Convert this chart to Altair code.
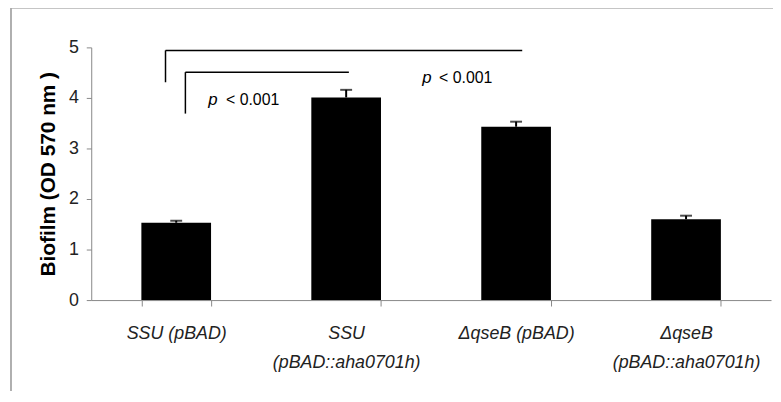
import altair as alt
import pandas as pd

categories = ["SSU (pBAD)", "SSU|(pBAD::aha0701h)", "ΔqseB (pBAD)", "ΔqseB|(pBAD::aha0701h)"]
means = [1.53, 4.01, 3.43, 1.60]
errors = [0.04, 0.15, 0.10, 0.07]

# bracket segments, x in band units (0..4), y in OD units
br_x = [0.437, 0.437, 0.554, 0.554]
br_x2 = [0.437, 2.536, 0.554, 1.516]
br_y = [4.31, 4.94, 3.69, 4.51]
br_y2 = [4.94, 4.94, 4.51, 4.51]

p_x = [0.688, 1.948]
lt_x = [0.793, 2.047]
p_y = [3.96, 4.39]

bars = pd.DataFrame({"cat": categories, "mean": means, "err": errors})
bars["top"] = bars["mean"] + bars["err"]
brackets = pd.DataFrame({"x": br_x, "x2": br_x2, "y": br_y, "y2": br_y2})
ptext = pd.DataFrame({"px": p_x, "lx": lt_x, "y": p_y})

FONT = "Liberation Sans"

xband = alt.X("cat:N", sort=categories, title=None,
              scale=alt.Scale(paddingInner=0.59, paddingOuter=0.295),
              axis=alt.Axis(labelExpr="split(datum.label, '|')", labelAngle=0,
                            labelFontStyle="italic", labelFontSize=18, labelFont=FONT,
                            labelColor="#222", labelLineHeight=29, labelPadding=19,
                            tickBand="extent", tickSize=6, tickColor="#888",
                            domainColor="#888", labelBaseline="top"))
yq = alt.Y("mean:Q", title="Biofilm (OD 570 nm )",
           scale=alt.Scale(domain=[0, 5], nice=False),
           axis=alt.Axis(values=[0, 1, 2, 3, 4, 5], grid=False, tickSize=5,
                         tickColor="#888", domainColor="#888", labelFontSize=18,
                         labelFont=FONT, labelColor="#222", labelPadding=8,
                         titleFont=FONT, titleFontSize=21, titleFontWeight="bold",
                         titleColor="#000", titlePadding=10))

base = alt.Chart(bars)
bar = base.mark_bar(color="#000").encode(x=xband, y=yq)
stem = base.mark_rule(color="#000", strokeWidth=2).encode(
    x=alt.X("cat:N", sort=categories), y="mean:Q", y2="top:Q")
cap = base.mark_tick(color="#000", thickness=2, size=12).encode(
    x=alt.X("cat:N", sort=categories), y="top:Q")

xq = alt.X("x:Q", scale=alt.Scale(domain=[0, 4], nice=False), axis=None)
brk = alt.Chart(brackets).mark_rule(color="#000", strokeWidth=1.5).encode(
    x=xq, x2="x2:Q", y=alt.Y("y:Q"), y2="y2:Q")
ptxt = alt.Chart(ptext).mark_text(text="p", font=FONT, fontStyle="italic", fontSize=17,
                                  align="left", baseline="middle", color="#000").encode(
    x=alt.X("px:Q", scale=alt.Scale(domain=[0, 4], nice=False), axis=None), y="y:Q")
ltxt = alt.Chart(ptext).mark_text(text="< 0.001", font=FONT, fontSize=16,
                                  align="left", baseline="middle", color="#000").encode(
    x=alt.X("lx:Q", scale=alt.Scale(domain=[0, 4], nice=False), axis=None), y="y:Q")

frame_top = alt.Chart(bars).mark_rule(color="#aaa", strokeWidth=1).encode(
    x=alt.value(-81), x2=alt.value(700), y=alt.value(-40))
frame_left = alt.Chart(bars).mark_rule(color="#aaa", strokeWidth=1).encode(
    x=alt.value(-81), y=alt.value(-40), y2=alt.value(360))

bars_layer = alt.layer(bar, stem, cap)
annot = alt.layer(brk, ptxt, ltxt, frame_top, frame_left)

chart = alt.layer(bars_layer, annot).resolve_scale(x="independent").properties(
    width=686, height=255,
    autosize=alt.AutoSizeParams(type="none"),
    padding={"left": 84, "top": 38, "right": 2, "bottom": 90},
).configure_view(stroke=None)

chart.save("out.html", embed_options={"renderer": "svg", "actions": False})
